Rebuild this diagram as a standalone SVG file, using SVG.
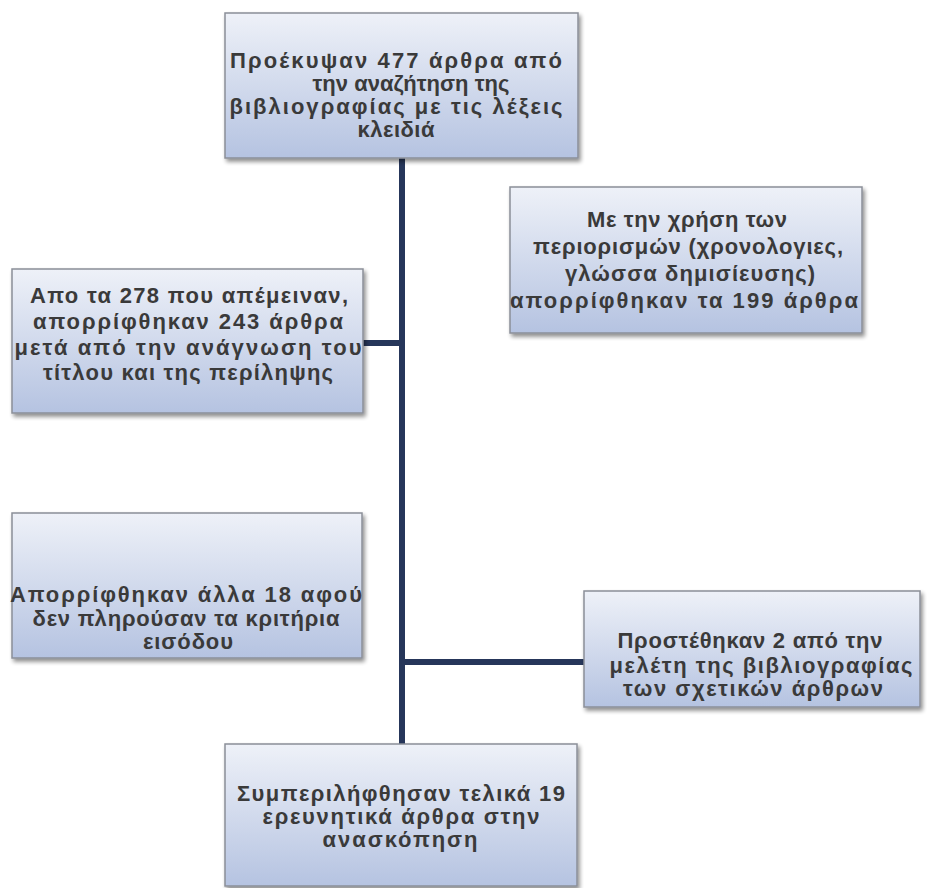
<svg xmlns="http://www.w3.org/2000/svg" width="927" height="888" viewBox="0 0 927 888">
<defs>
<linearGradient id="g" x1="0" y1="0" x2="0" y2="1">
<stop offset="0" stop-color="#eef1f8"/>
<stop offset="1" stop-color="#b5c3e1"/>
</linearGradient>
<filter id="sh" x="-5%" y="-5%" width="112%" height="115%">
<feGaussianBlur in="SourceAlpha" stdDeviation="2"/>
<feOffset dx="2" dy="3"/>
<feComponentTransfer><feFuncA type="linear" slope="0.45"/></feComponentTransfer>
<feMerge><feMergeNode/><feMergeNode in="SourceGraphic"/></feMerge>
</filter>
<style>
.box{fill:url(#g);stroke:#8b8f98;stroke-width:1.5;filter:url(#sh)}
.t{font-family:"Liberation Sans","DejaVu Sans",sans-serif;font-weight:bold;font-size:22px;fill:#3a3a3a;text-anchor:middle}
.c{stroke:#26365a;stroke-width:6;fill:none}
</style>
</defs>
<rect width="927" height="888" fill="#ffffff"/>
<g id="connectors">
<line class="c" x1="402" y1="158" x2="402" y2="745"/>
<line class="c" x1="363" y1="343" x2="402" y2="343"/>
<line class="c" x1="402" y1="662" x2="584" y2="662"/>
</g>
<g id="n1">
<rect class="box" x="225" y="13" width="353" height="145"/>
<text class="t" x="396" y="68" textLength="332" lengthAdjust="spacing">Προέκυψαν 477 άρθρα από</text>
<text class="t" x="411" y="91" textLength="197" lengthAdjust="spacing">την αναζήτηση της</text>
<text class="t" x="396" y="114" textLength="333" lengthAdjust="spacing">βιβλιογραφίας με τις λέξεις</text>
<text class="t" x="396" y="137" textLength="77" lengthAdjust="spacing">κλειδιά</text>
</g>
<g id="n2">
<rect class="box" x="510" y="187" width="352" height="146"/>
<text class="t" x="687" y="227" textLength="200" lengthAdjust="spacing">Με την χρήση των</text>
<text class="t" x="688" y="254" textLength="310" lengthAdjust="spacing">περιορισμών (χρονολογιες,</text>
<text class="t" x="690" y="281" textLength="250" lengthAdjust="spacing">γλώσσα δημισίευσης)</text>
<text class="t" x="684" y="308" textLength="348" lengthAdjust="spacing">απορρίφθηκαν τα 199 άρθρα</text>
</g>
<g id="n3">
<rect class="box" x="12" y="269" width="351" height="144"/>
<text class="t" x="189" y="303" textLength="318" lengthAdjust="spacing">Απο τα 278 που απέμειναν,</text>
<text class="t" x="188" y="329" textLength="310" lengthAdjust="spacing">απορρίφθηκαν  243 άρθρα</text>
<text class="t" x="188" y="355" textLength="347" lengthAdjust="spacing">μετά από την ανάγνωση του</text>
<text class="t" x="188" y="380" textLength="290" lengthAdjust="spacing">τίτλου και της περίληψης</text>
</g>
<g id="n4">
<rect class="box" x="12" y="513" width="350" height="145"/>
<text class="t" x="186" y="602" textLength="352" lengthAdjust="spacing">Απορρίφθηκαν άλλα 18 αφού</text>
<text class="t" x="186" y="626" textLength="307" lengthAdjust="spacing">δεν πληρούσαν τα κριτήρια</text>
<text class="t" x="188" y="649" textLength="90" lengthAdjust="spacing">εισόδου</text>
</g>
<g id="n5">
<rect class="box" x="584" y="591" width="336" height="116"/>
<text class="t" x="750" y="648" textLength="265" lengthAdjust="spacing">Προστέθηκαν 2 από την</text>
<text class="t" x="761" y="673" textLength="303" lengthAdjust="spacing">μελέτη της βιβλιογραφίας</text>
<text class="t" x="753" y="696" textLength="260" lengthAdjust="spacing">των σχετικών άρθρων</text>
</g>
<g id="n6">
<rect class="box" x="225" y="744" width="352" height="142"/>
<text class="t" x="401" y="801" textLength="328" lengthAdjust="spacing">Συμπεριλήφθησαν τελικά 19</text>
<text class="t" x="401" y="824" textLength="277" lengthAdjust="spacing">ερευνητικά άρθρα στην</text>
<text class="t" x="400" y="847" textLength="155" lengthAdjust="spacing">ανασκόπηση</text>
</g>
</svg>
